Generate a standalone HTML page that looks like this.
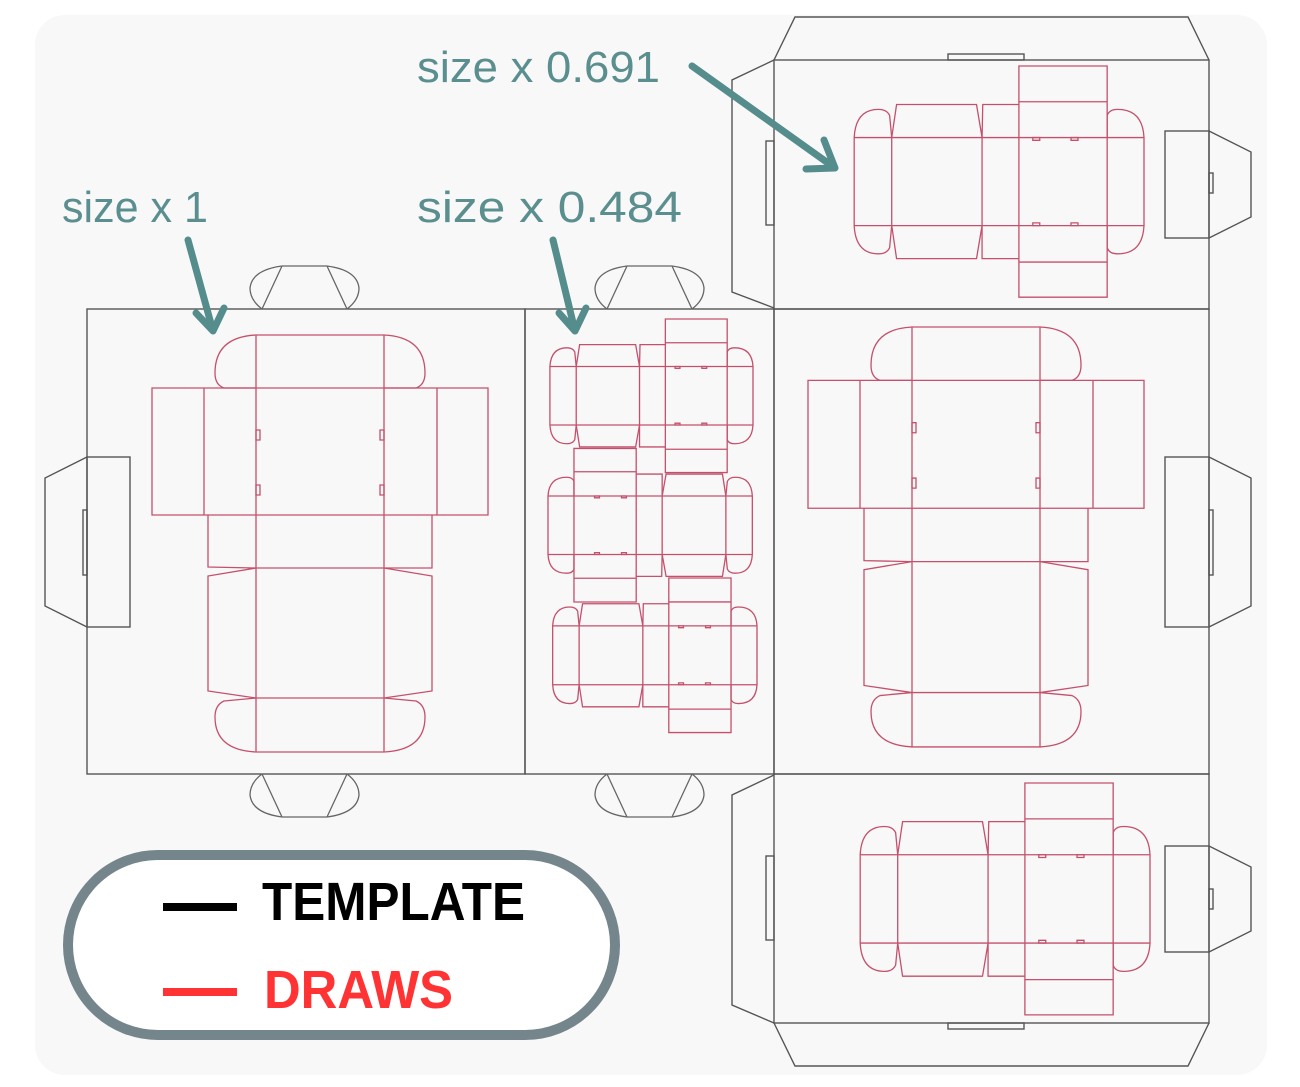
<!DOCTYPE html>
<html><head><meta charset="utf-8"><style>
html,body{margin:0;padding:0;background:#fff;}
svg{display:block;}
</style></head><body>
<svg width="1300" height="1087" viewBox="0 0 1300 1087" xmlns="http://www.w3.org/2000/svg">
<defs>
<g id="draw" fill="none" stroke="#c4506c" stroke-width="1.3" vector-effect="non-scaling-stroke">
  <path vector-effect="non-scaling-stroke" d="M104,53 L72,53 Q63,50 63,38 Q63,2 104,0 L232,0 Q273,2 273,38 Q273,50 264,53 L232,53"/>
  <rect vector-effect="non-scaling-stroke" x="0" y="53" width="336" height="127"/>
  <line vector-effect="non-scaling-stroke" x1="52" y1="53" x2="52" y2="180"/>
  <line vector-effect="non-scaling-stroke" x1="285" y1="53" x2="285" y2="180"/>
  <path vector-effect="non-scaling-stroke" d="M56,180 L56,232 L104,233 L280,233 L280,180"/>
  <path vector-effect="non-scaling-stroke" d="M104,233 L56,241 L56,356 L104,363 L232,363 L280,356 L280,241 L232,233"/>
  <path vector-effect="non-scaling-stroke" d="M104,363 L72,366 Q63,370 63,382 Q63,415 104,417 L232,417 Q273,415 273,382 Q273,370 264,366 L232,363"/>
  <line vector-effect="non-scaling-stroke" x1="104" y1="0" x2="104" y2="417"/>
  <line vector-effect="non-scaling-stroke" x1="232" y1="0" x2="232" y2="417"/>
  <rect vector-effect="non-scaling-stroke" x="104" y="95" width="4" height="10"/>
  <rect vector-effect="non-scaling-stroke" x="104" y="150" width="4" height="10"/>
  <rect vector-effect="non-scaling-stroke" x="228" y="95" width="4" height="10"/>
  <rect vector-effect="non-scaling-stroke" x="228" y="150" width="4" height="10"/>
</g>
<g id="handle" fill="none" stroke="#666" stroke-width="1.3">
  <path d="M282,266 L327,266 M282,266 L262,309 M327,266 L347,309 M282,266 Q252,270 250,288 Q250,300 262,309 M327,266 Q357,270 359,288 Q359,300 347,309"/>
</g>
</defs>
<rect x="0" y="0" width="1300" height="1087" fill="#fff"/>
<rect x="35" y="15" width="1232" height="1060" rx="30" fill="#f8f8f8"/>

<g fill="none" stroke="#555" stroke-width="1.4">
  <rect x="87" y="309" width="438" height="465"/>
  <rect x="525" y="309" width="249" height="465"/>
  <rect x="774" y="309" width="435" height="465"/>
  <rect x="774" y="60" width="435" height="249"/>
  <rect x="774" y="774" width="435" height="249"/>
  <polyline points="774,60 795,17 1188,17 1209,60"/>
  <rect x="948" y="54" width="76" height="6"/>
  <polyline points="774,60 732,80 732,292 774,308"/>
  <rect x="766" y="141" width="8" height="84"/>
  <rect x="1165" y="131" width="44" height="107"/>
  <polyline points="1209,131 1251,152 1251,217 1209,238"/>
  <rect x="1209" y="173" width="4" height="20"/>
  <polyline points="774,1023 795,1066 1188,1066 1209,1023"/>
  <rect x="948" y="1023" width="76" height="6"/>
  <polyline points="774,775 732,795 732,1005 774,1023"/>
  <rect x="766" y="856" width="8" height="84"/>
  <rect x="1165" y="846" width="44" height="106"/>
  <polyline points="1209,846 1251,867 1251,931 1209,952"/>
  <rect x="1209" y="889" width="4" height="20"/>
  <rect x="1165" y="457" width="44" height="170"/>
  <polyline points="1209,457 1251,478 1251,606 1209,627"/>
  <rect x="1209" y="510" width="4" height="65"/>
  <rect x="87" y="457" width="43" height="170"/>
  <polyline points="87,457 45,478 45,606 87,627"/>
  <rect x="83" y="510" width="4" height="65"/>
</g>
<use href="#handle"/>
<use href="#handle" transform="translate(345,0)"/>
<use href="#handle" transform="translate(0,1083) scale(1,-1)"/>
<use href="#handle" transform="translate(345,1083) scale(1,-1)"/>

<use href="#draw" transform="translate(152,335)"/>
<use href="#draw" transform="translate(808,327) scale(1,1.007)"/>
<use href="#draw" transform="translate(1144,66) rotate(90) scale(0.688,0.695)"/>
<use href="#draw" transform="translate(1150,783) rotate(90) scale(0.69,0.695)"/>
<use href="#draw" transform="translate(753,319) rotate(90) scale(0.457,0.487)"/>
<use href="#draw" transform="translate(548,602) rotate(-90) scale(0.457,0.49)"/>
<use href="#draw" transform="translate(757,578) rotate(90) scale(0.46,0.49)"/>

<g font-family="Liberation Sans, sans-serif" font-size="44" fill="#5b8e8e">
  <text x="417" y="82" textLength="243" lengthAdjust="spacingAndGlyphs">size x 0.691</text>
  <text x="62" y="222" textLength="146" lengthAdjust="spacingAndGlyphs">size x 1</text>
  <text x="417" y="222" textLength="265" lengthAdjust="spacingAndGlyphs">size x 0.484</text>
</g>
<g stroke="#558c8c" stroke-width="7" stroke-linecap="round" stroke-linejoin="round" fill="none">
  <path d="M692,66 L835,168 M824,140 L835,168 L806,169"/>
  <path d="M188,240 L213,331 M196,313 L213,331 L224,308"/>
  <path d="M553,240 L575,331 M559,313 L575,331 L586,308"/>
</g>

<rect x="68" y="855" width="547" height="180" rx="90" fill="#fff" stroke="#74858b" stroke-width="10"/>
<rect x="163" y="903" width="74" height="8" fill="#000"/>
<rect x="163" y="988" width="74" height="8" fill="#ff3333"/>
<text x="262" y="920" font-family="Liberation Sans, sans-serif" font-weight="bold" font-size="54" fill="#000" textLength="263" lengthAdjust="spacingAndGlyphs">TEMPLATE</text>
<text x="264" y="1008" font-family="Liberation Sans, sans-serif" font-weight="bold" font-size="54" fill="#ff3333" textLength="189" lengthAdjust="spacingAndGlyphs">DRAWS</text>
</svg>
</body></html>
